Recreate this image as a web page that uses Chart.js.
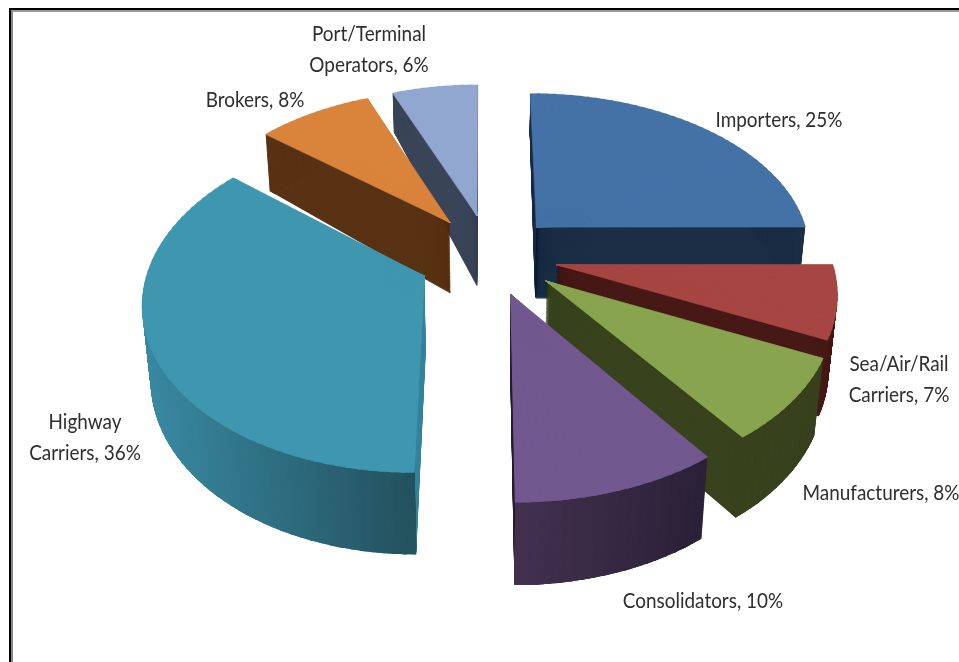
<!DOCTYPE html>
<html>
<head>
<meta charset="utf-8">
<title>Freight users by type</title>
<script src="https://cdn.jsdelivr.net/npm/chart.js@4/dist/chart.umd.min.js"></script>
<style>
    html, body { margin: 0; padding: 0; background: #fff; overflow: hidden; }
    #wrap { position: relative; width: 959px; height: 662px; }
    #frame { position: absolute; left: 9px; top: 8px; right: 0; bottom: 0; border-top: 2px solid #000; border-left: 2px solid #000; }
    #frame:before { content: ''; position: absolute; left: 0; top: 0; right: 0; bottom: 0; border-top: 2px solid #999; border-left: 2px solid #888; }
    canvas { position: absolute; left: 0; top: 0; display: block; }
</style>
</head>
<body>
<div id="wrap">
    <div id="frame"></div>
    <canvas id="pie" width="959" height="662"></canvas>
</div>
<script>
const categories = ['Importers', 'Sea/Air/Rail Carriers', 'Manufacturers', 'Consolidators', 'Highway Carriers', 'Brokers', 'Port/Terminal Operators'];
const shares = [25, 7, 8, 10, 36, 8, 6];

const topColors = ['#4471a6', '#a64541', '#88a44e', '#71588f', '#3f96af', '#d9833b', '#91a7cf'];
const sideColors = ['#1b2e45', '#471a17', '#38431e', '#2b2137', '#37859c', '#593315', '#3a4558'];
const rimLeft = ['#1b2e45', '#471a17', '#38431e', '#43314f', '#3b8ba4', '#593315', '#3a4558'];
const rimRight = ['#1b2e45', '#471a17', '#38431e', '#2c2239', '#24525f', '#593315', '#3a4558'];

// how far each slice is pulled out of the pie, in radii on the pie plane
const pullU = [0.19, 0.255, 0.215, 0.09, -0.215, -0.13, -0.03];
const pullV = [-0.18, 0.06, 0.16, 0.24, 0.13, -0.21, -0.255];
// the slices are not quite equally foreshortened
const stretchU = [0.995, 0.99, 1, 1.01, 0.985, 0.98, 0.973];
const stretchV = [1, 1.03, 1.025, 1.04, 1.02, 1, 1];
// back to front
const paintOrder = [6, 5, 4, 0, 1, 2, 3];

const labelX = [779, 899, 881, 703, 85, 255, 369];
const labelY = [127, 371, 500, 608, 429, 107, 41];
const LINE_HEIGHT = 31;
const LABEL_FONT = '22px Lato';
const LABEL_SQUEEZE = 0.86;

// camera: pie plane seen from the front and above
const X0 = 485, Y0 = 255, RX = 277, RY = 159, K = 0.138;
// slab thickness on screen, by height of the top-face point
const depthY = [94, 135, 216, 338, 470, 505];
const depthPx = [39, 57, 71, 76, 82, 83];
const SHRINK = 0.027;
const WEDGE = 2 * Math.PI / 180;
const STEPS = 90;

function project(u, v) {
    const w = 1 - K * v;
    return { x: X0 + RX * u / w, y: Y0 - RY / K + (RY / K) / w };
}

function rimPoint(idx, a) {
    return project(pullU[idx] + stretchU[idx] * Math.cos(a), pullV[idx] + stretchV[idx] * Math.sin(a));
}

function depthAt(y) {
    if (y <= depthY[0]) return depthPx[0];
    for (let i = 1; i < depthY.length; i++) {
        if (y <= depthY[i]) {
            const f = (y - depthY[i - 1]) / (depthY[i] - depthY[i - 1]);
            return depthPx[i - 1] + f * (depthPx[i] - depthPx[i - 1]);
        }
    }
    return depthPx[depthPx.length - 1];
}

function sink(p, t) {
    const d = depthAt(p.y);
    return { x: p.x - (p.x - X0) * SHRINK * (d / 82) * t, y: p.y + d * t };
}

function mixColor(a, b, f) {
    const pa = parseInt(a.slice(1), 16), pb = parseInt(b.slice(1), 16);
    const ch = (s) => Math.round(((pa >> s) & 255) * (1 - f) + ((pb >> s) & 255) * f);
    return `rgb(${ch(16)},${ch(8)},${ch(0)})`;
}

// Draws a thin piece of the arc element, mapped onto the tilted plane.
// a0..a1 sets the fit of the mapping, from..to what actually gets filled.
function drawPiece(ctx, arc, idx, a0, a1, from, to, t, color, inner, border) {
    const R = arc.outerRadius;
    const c = sink(project(pullU[idx], pullV[idx]), t);
    const p0 = sink(rimPoint(idx, a0), t);
    const p1 = sink(rimPoint(idx, a1), t);
    const ax = R * Math.cos(a0), ay = R * Math.sin(a0), bx = R * Math.cos(a1), by = R * Math.sin(a1);
    const det = ax * by - ay * bx;
    const m11 = ((p0.x - c.x) * by - (p1.x - c.x) * ay) / det;
    const m12 = ((p1.x - c.x) * ax - (p0.x - c.x) * bx) / det;
    const m21 = ((p0.y - c.y) * by - (p1.y - c.y) * ay) / det;
    const m22 = ((p1.y - c.y) * ax - (p0.y - c.y) * bx) / det;
    const piece = Object.create(arc);
    piece.startAngle = from;
    piece.endAngle = to;
    piece.circumference = to - from;
    piece.innerRadius = inner;
    piece.options = { ...arc.options, backgroundColor: color, borderColor: color, borderWidth: border };
    ctx.save();
    ctx.transform(m11, m21, m12, m22, c.x - m11 * arc.x - m12 * arc.y, c.y - m21 * arc.x - m22 * arc.y);
    piece.draw(ctx);
    ctx.restore();
}

function wedgesOf(arc) {
    const n = Math.ceil((arc.endAngle - arc.startAngle) / WEDGE);
    const span = (arc.endAngle - arc.startAngle) / n;
    const out = [];
    for (let i = 0; i < n; i++) out.push([arc.startAngle + i * span, arc.startAngle + (i + 1) * span]);
    return out;
}

function drawLayer(ctx, arc, idx, t, colorFor, inner, border) {
    const lap = 0.3 * Math.PI / 180;
    wedgesOf(arc).forEach(([a0, a1]) => {
        const from = Math.max(arc.startAngle, a0 - lap), to = Math.min(arc.endAngle, a1 + lap);
        drawPiece(ctx, arc, idx, a0, a1, from, to, t, colorFor(a0), inner, border);
    });
}

const tiltedPie = {
    id: 'tiltedPie',
    beforeDatasetsDraw(chart) {
        const ctx = chart.ctx;
        const arcs = chart.getDatasetMeta(0).data;
        paintOrder.forEach((idx) => {
            const arc = arcs[idx];
            // screen range of the rim, for the shading of the outer wall
            const xs = wedgesOf(arc).map(([a0]) => rimPoint(idx, a0).x);
            const minX = Math.min(...xs), maxX = Math.max(...xs);
            for (let s = STEPS; s >= 1; s--) {
                drawLayer(ctx, arc, idx, s / STEPS, () => sideColors[idx], 0, 0);
            }
            for (let s = STEPS; s >= 1; s--) {
                drawLayer(ctx, arc, idx, s / STEPS, (a0) => {
                    const f = (rimPoint(idx, a0).x - minX) / (maxX - minX || 1);
                    return mixColor(rimLeft[idx], rimRight[idx], f);
                }, arc.outerRadius * 0.97, 0);
            }
            drawLayer(ctx, arc, idx, 0, () => topColors[idx], 0, 1);
        });
        return false;
    },
    afterDraw(chart) {
        const ctx = chart.ctx;
        ctx.save();
        ctx.font = LABEL_FONT;
        ctx.fillStyle = '#2e2e2e';
        ctx.textAlign = 'center';
        ctx.textBaseline = 'alphabetic';
        categories.forEach((name, i) => {
            const lines = name.split(' ');
            lines[lines.length - 1] += `, ${shares[i]}%`;
            lines.forEach((line, l) => {
                ctx.save();
                ctx.translate(labelX[i], labelY[i] + l * LINE_HEIGHT);
                ctx.scale(LABEL_SQUEEZE, 1);
                ctx.fillText(line, 0, 0);
                ctx.restore();
            });
        });
        ctx.restore();
    },
};

new Chart(document.getElementById('pie'), {
    type: 'pie',
    data: { labels: categories, datasets: [{ data: shares, backgroundColor: topColors, borderWidth: 0 }] },
    options: {
        responsive: false,
        animation: false,
        plugins: { legend: { display: false }, tooltip: { enabled: false } },
    },
    plugins: [tiltedPie],
});
</script>
</body>
</html>
